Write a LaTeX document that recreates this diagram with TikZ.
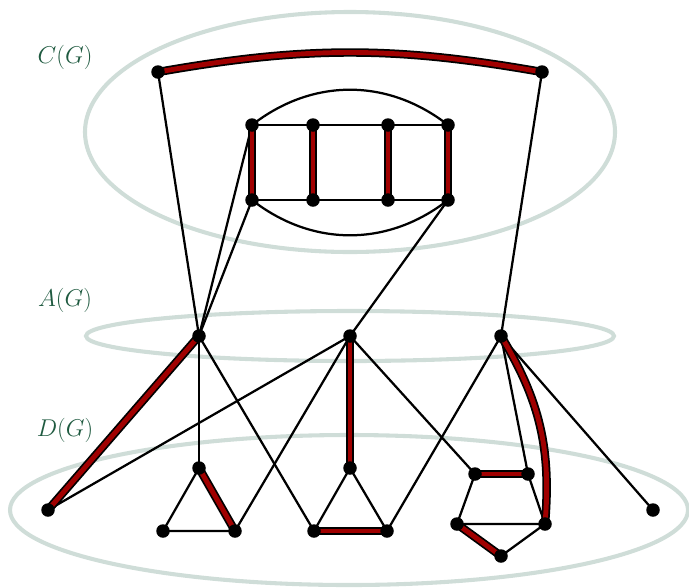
\documentclass[tikz,border=0pt]{standalone}
\usepackage{xcolor}
\definecolor{ellcol}{HTML}{CFDDD8}
\definecolor{labcol}{HTML}{1F5A40}
\definecolor{medred}{HTML}{A00000}
\begin{document}
\begin{tikzpicture}[x=0.025cm,y=-0.025cm,
  vtx/.style={circle,fill=black,inner sep=0pt,minimum size=13.5*0.025cm},
  edge/.style={line width=1.6pt,black},
  redge/.style={line width=3.5pt,draw=medred,preaction={draw=black,line width=6pt}},
  ell/.style={draw=ellcol,line width=2.9pt},
  lab/.style={text=labcol,font=\fontsize{16}{19}\selectfont}]
\useasboundingbox (0,0) rectangle (689,587);
% ellipses
\draw[ell] (350,132) ellipse [x radius=265, y radius=120];
\draw[ell] (350,336) ellipse [x radius=264, y radius=25];
\draw[ell] (349,510) ellipse [x radius=339, y radius=75];
% labels
\node[lab] (lc) at (65,57) {$C(G)$};
\node[lab] (la) at (65,300) {$A(G)$};
\node[lab] (ld) at (65,430) {$D(G)$};
% coordinates of vertices
\coordinate (c1) at (158,72);
\coordinate (c2) at (542,72);
\coordinate (l1) at (252,125);
\coordinate (l2) at (313,125);
\coordinate (l3) at (388,125);
\coordinate (l4) at (448,125);
\coordinate (m1) at (252,200);
\coordinate (m2) at (313,200);
\coordinate (m3) at (388,200);
\coordinate (m4) at (448,200);
\coordinate (a1) at (199,336);
\coordinate (a2) at (350,336);
\coordinate (a3) at (501,336);
\coordinate (d1) at (48,510);
\coordinate (t1) at (199,468);
\coordinate (t2) at (163,531);
\coordinate (t3) at (235,531);
\coordinate (u1) at (350,468);
\coordinate (u2) at (314,531);
\coordinate (u3) at (387,531);
\coordinate (p1) at (475,474);
\coordinate (p2) at (528,474);
\coordinate (p3) at (457,524);
\coordinate (p4) at (545,524);
\coordinate (p5) at (501,556);
\coordinate (d2) at (653,510);
% plain edges
\draw[edge] (l1) -- (l2) -- (l3) -- (l4);
\draw[edge] (m1) -- (m2) -- (m3) -- (m4);
\draw[edge] (l1) to[bend left=38] (l4);
\draw[edge] (m1) to[bend right=38] (m4);
\draw[edge] (c1) -- (a1);
\draw[edge] (c2) -- (a3);
\draw[edge] (l1) -- (a1);
\draw[edge] (m1) -- (a1);
\draw[edge] (m4) -- (a2);
\draw[edge] (a1) -- (t1);
\draw[edge] (a1) -- (u2);
\draw[edge] (a2) -- (d1);
\draw[edge] (a2) -- (t3);
\draw[edge] (a2) -- (p1);
\draw[edge] (a3) -- (u3);
\draw[edge] (a3) -- (p2);
\draw[edge] (a3) -- (d2);
\draw[edge] (t1) -- (t2) -- (t3);
\draw[edge] (u1) -- (u2);
\draw[edge] (u1) -- (u3);
\draw[edge] (p1) -- (p3) -- (p4) -- (p5);
\draw[edge] (p2) -- (p4);
% red edges
\draw[redge] (c1) to[bend left=10] (c2);
\draw[redge] (l1) -- (m1);
\draw[redge] (l2) -- (m2);
\draw[redge] (l3) -- (m3);
\draw[redge] (l4) -- (m4);
\draw[redge] (a1) -- (d1);
\draw[redge] (a2) -- (u1);
\draw[redge] (a3) to[bend left=18] (p4);
\draw[redge] (t1) -- (t3);
\draw[redge] (u2) -- (u3);
\draw[redge] (p1) -- (p2);
\draw[redge] (p3) -- (p5);
% vertices
\foreach \v in {c1,c2,l1,l2,l3,l4,m1,m2,m3,m4,a1,a2,a3,d1,t1,t2,t3,u1,u2,u3,p1,p2,p3,p4,p5,d2}
  \node[vtx] (n\v) at (\v) {};
\end{tikzpicture}
\end{document}
